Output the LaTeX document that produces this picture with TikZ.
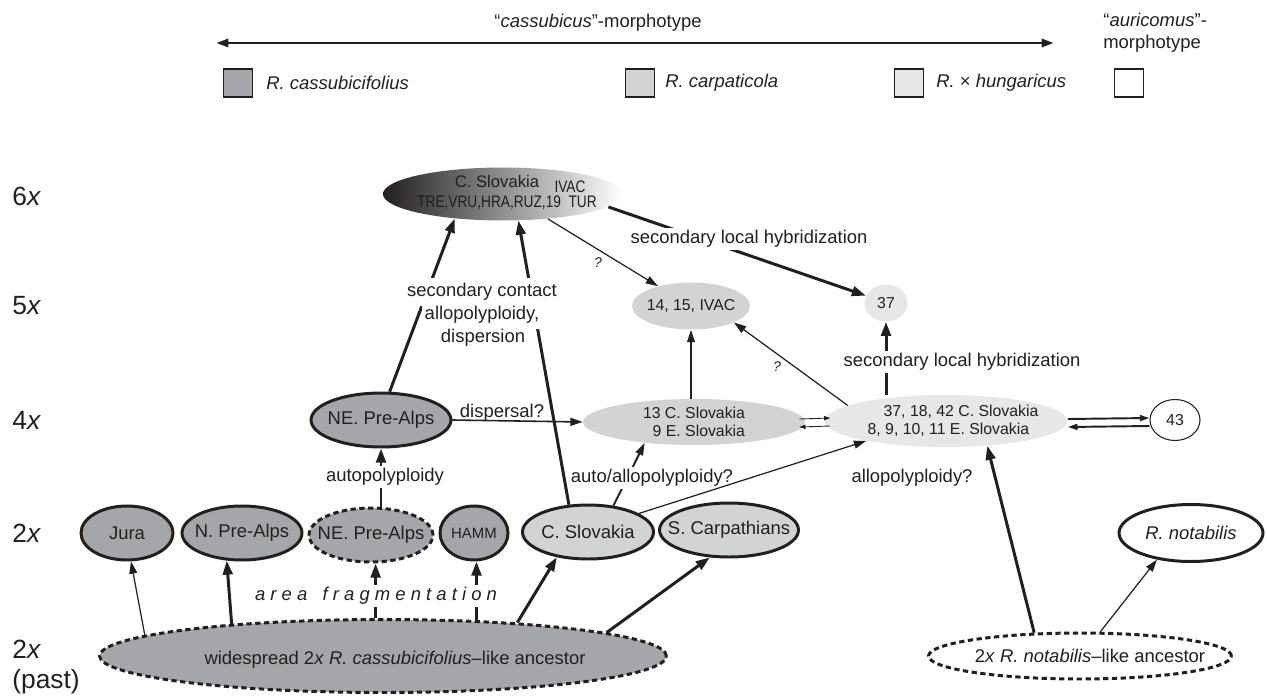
\documentclass[tikz,border=0pt]{standalone}
\usepackage{fontspec}
\setmainfont{Liberation Sans}
\newfontfamily\narrowfont[FakeStretch=0.82]{Liberation Sans}
\usetikzlibrary{arrows.meta,shapes.geometric}
\newcommand{\labsize}{\fontsize{10.5}{12.5}\selectfont}
\newcommand{\smallsize}{\fontsize{9}{10.5}\selectfont}
\definecolor{inkdark}{HTML}{231F20}
\definecolor{cassgray}{HTML}{A4A6A9}
\definecolor{carpgray}{HTML}{D1D3D4}
\definecolor{hungray}{HTML}{E6E7E8}

\begin{document}
\begin{tikzpicture}[
  x=0.02cm,
  y=-0.02cm,
  every node/.style={font=\labsize, text=inkdark},
  pop/.style={ellipse, draw=inkdark, line width=1.7pt, inner sep=0pt, minimum height=1.08cm},
  gone/.style={dash pattern=on 3pt off 2pt},
  blob/.style={ellipse, inner sep=0pt},
  legsq/.style={draw=inkdark, line width=0.6pt, minimum width=0.58cm, minimum height=0.56cm, inner sep=0pt},
  level/.style={font=\fontsize{15}{17}\selectfont, anchor=west, inner sep=0pt, align=left},
  thickarr/.style={inkdark, line width=1.7pt, -{Triangle[length=8pt,width=5.5pt]}},
  thinarr/.style={inkdark, line width=0.7pt, -{Triangle[length=7pt,width=4.5pt]}},
  gaplbl/.style={fill=white, inner sep=1.5pt},
  qmark/.style={font=\fontsize{8}{9}\selectfont\itshape}
]
  \useasboundingbox (0,0) rectangle (1267,696);

  % ---- morphotype axis and legend ----
  \coordinate (morphL) at (216,43);
  \coordinate (morphR) at (1054,43);
  \draw[inkdark, line width=1.7pt,
        {Triangle[length=7pt,width=4.5pt]}-{Triangle[length=7pt,width=4.5pt]}]
    (morphL) -- (morphR);
  \node (cassmorph) at (598,23) {“\textit{cassubicus}”-morphotype};
  \node[anchor=west, align=left, inner sep=0pt] (aurimorph) at (1103,33)
    {“\textit{auricomus}”-\\morphotype};

  \node[legsq, fill=cassgray] (sqcass) at (238,83) {};
  \node[anchor=west, inner sep=0pt] (txcass) at (266,83) {\textit{R. cassubicifolius}};
  \node[legsq, fill=carpgray] (sqcarp) at (640,83) {};
  \node[anchor=west, inner sep=0pt] (txcarp) at (665,83) {\textit{R. carpaticola}};
  \node[legsq, fill=hungray] (sqhung) at (909,83) {};
  \node[anchor=west, inner sep=0pt] (txhung) at (936,83) {\textit{R.} × \textit{hungaricus}};
  \node[legsq, fill=white] (sqauri) at (1129,83) {};

  % ---- ploidy levels ----
  \node[level] (lv6) at (12,196) {6\textit{x}};
  \node[level] (lv5) at (12,306) {5\textit{x}};
  \node[level] (lv4) at (12,420) {4\textit{x}};
  \node[level] (lv2) at (12,533) {2\textit{x}};
  \node[level] (lvpast) at (12,667) {2\textit{x}\\(past)};

  % ---- 6x ----
  \node[blob, left color=inkdark, right color=white,
        minimum width=4.8cm, minimum height=1.06cm] (hexa) at (503,194) {};
  \node[font=\fontsize{9.5}{11}\selectfont] (hexcs) at (497,182) {C. Slovakia};
  \node[font=\narrowfont\fontsize{9.5}{11}\selectfont] (hexivac) at (570,187) {IVAC};
  \node[font=\narrowfont\fontsize{9.5}{11}\selectfont] (hexpops) at (507,203)
    {TRE,VRU,HRA,RUZ,19\ \ TUR};

  % ---- 5x ----
  \node[blob, fill=carpgray, minimum width=2.36cm, minimum height=0.94cm,
        label={[font=\smallsize]center:{14, 15, IVAC}}] (penta) at (691,306) {};
  \node[blob, fill=hungray, minimum width=0.86cm, minimum height=0.74cm,
        label={[font=\smallsize]center:{37}}] (hyb37) at (886,303) {};

  % ---- 4x ----
  \node[pop, fill=cassgray, minimum width=2.8cm,
        label={center:{NE. Pre-Alps}}] (ne4) at (381,420) {};
  \node[blob, fill=carpgray, minimum width=4.44cm, minimum height=0.92cm,
        label={[font=\smallsize, align=right]center:{13 C. Slovakia\\9 E. Slovakia}}]
    (carp4) at (694,422) {};
  \node[blob, fill=hungray, minimum width=4.86cm, minimum height=1.04cm,
        label={[font=\smallsize, align=left, xshift=0.14cm]center:{\hspace*{0.32cm}37, 18, 42 C. Slovakia\\8, 9, 10, 11 E. Slovakia}}]
    (hung4) at (946,421) {};
  \node[ellipse, draw=inkdark, line width=0.6pt, fill=white, inner sep=0pt,
        minimum width=1cm, minimum height=0.82cm,
        label={[font=\smallsize]center:{43}}] (hung43) at (1175,420) {};

  % ---- 2x ----
  \node[pop, fill=cassgray, minimum width=1.84cm, label={center:{Jura}}] (jura) at (127,533) {};
  \node[pop, fill=cassgray, minimum width=2.4cm, label={center:{N. Pre-Alps}}] (npre) at (242,533) {};
  \node[pop, gone, fill=cassgray, minimum width=2.48cm, label={center:{NE. Pre-Alps}}] (nepre) at (371,535) {};
  \node[pop, fill=cassgray, minimum width=1.36cm,
        label={[font=\fontsize{8.5}{10}\selectfont]center:{HAMM}}] (hamm) at (474,533) {};
  \node[pop, fill=carpgray, minimum width=2.62cm, label={center:{C. Slovakia}}] (cslov) at (588,532) {};
  \node[pop, fill=carpgray, minimum width=2.78cm, label={center:{S. Carpathians}}] (scarp) at (729,530) {};
  \node[pop, fill=white, minimum width=2.88cm, minimum height=1.14cm,
        label={center:{\textit{R. notabilis}}}] (rnot) at (1191,533) {};

  % ---- 2x (past) ----
  \node[pop, gone, fill=cassgray, minimum width=11.34cm, minimum height=1.46cm,
        label={[xshift=0.24cm, yshift=-0.08cm]center:{widespread 2\textit{x} \textit{R. cassubicifolius}–like ancestor}}]
    (ancc) at (383,656) {};
  \node[pop, gone, fill=white, minimum width=6.06cm, minimum height=0.92cm,
        label={[xshift=0.2cm]center:{2\textit{x} \textit{R. notabilis}–like ancestor}}]
    (ancn) at (1080,656) {};

  % ---- area fragmentation ----
  \draw[thinarr] (ancc.175) -- (jura.-82);
  \draw[thickarr] (ancc.168) -- (npre.-119);
  \draw[thickarr] (ancc.101) -- (ancc.101 |- nepre.south);
  \draw[thickarr] (ancc.21) -- (ancc.21 |- hamm.south);
  \draw[thickarr] (ancc.14) -- (cslov.-141);
  \draw[thickarr] (ancc.6) -- (scarp.-125);
  \node[gaplbl, font=\labsize\itshape] (areafrag) at (376,596)
    {a r e a \ \ f r a g m e n t a t i o n};

  % ---- into 4x ----
  \draw[thickarr] (ne4.south |- nepre.north) -- (ne4.south);
  \node[gaplbl] (autopoly) at (385,477) {autopolyploidy};
  \draw[thinarr, line width=0.9pt] (ne4.east) -- (carp4.west);
  \node (dispq) at (502,413) {dispersal?};
  \draw[thinarr, line width=1.1pt] (cslov.46) -- (carp4.-157);
  \node[gaplbl] (autoallo) at (652,478) {auto/allopolyploidy?};
  \draw[thinarr] (cslov.20) -- (hung4.-166);
  \draw[thickarr] (ancn.153) -- (hung4.-31);
  \node (allopoly) at (912,478) {allopolyploidy?};
  \draw[thinarr] (ancn.50) -- (rnot.-142);

  % ---- exchange between the 4x groups ----
  \draw[inkdark, line width=0.5pt, -{Triangle[length=3.5pt,width=2.4pt]}]
    ([shift={(-6,-3)}]carp4.east) -- ([shift={(6,-3)}]hung4.west);
  \draw[inkdark, line width=0.5pt, -{Triangle[length=3.5pt,width=2.4pt]}]
    ([shift={(6,5)}]hung4.west) -- ([shift={(-6,5)}]carp4.east);
  \draw[inkdark, line width=1.1pt, -{Triangle[length=5.5pt,width=3.4pt]}]
    ([yshift=0.04cm]hung4.east) -- ([yshift=0.04cm]hung43.west);
  \draw[inkdark, line width=1.1pt, -{Triangle[length=5.5pt,width=3.4pt]}]
    ([yshift=-0.12cm]hung43.west) -- ([yshift=-0.12cm]hung4.east);

  % ---- into 5x ----
  \draw[thinarr] (penta.south |- carp4.north) -- (penta.south);
  \draw[thinarr] (hung4.171) -- (penta.-21);
  \node[qmark] (qlow) at (777,367) {?};
  \draw[thickarr] (hyb37.south |- hung4.north) -- (hyb37.south);
  \node[gaplbl] (slhlow) at (962,362) {secondary local hybridization};

  % ---- into and out of 6x ----
  \draw[thickarr] (ne4.73) -- (hexa.-153);
  \draw[thickarr] (cslov.125) -- (hexa.-60);
  \node[gaplbl, inner ysep=3pt] (sclinea) at (482,292) {secondary contact};
  \node[gaplbl, inner ysep=3pt] (sclineb) at (482,315) {allopolyploidy,};
  \node[gaplbl] (sclinec) at (483,338) {dispersion};
  \draw[thinarr] (hexa.-29) -- (penta.149);
  \node[qmark] (qhigh) at (598,263) {?};
  \draw[thickarr] (hexa.-7) -- (hyb37.160);
  \node[gaplbl] (slhhigh) at (749,239) {secondary local hybridization};
\end{tikzpicture}
\end{document}
